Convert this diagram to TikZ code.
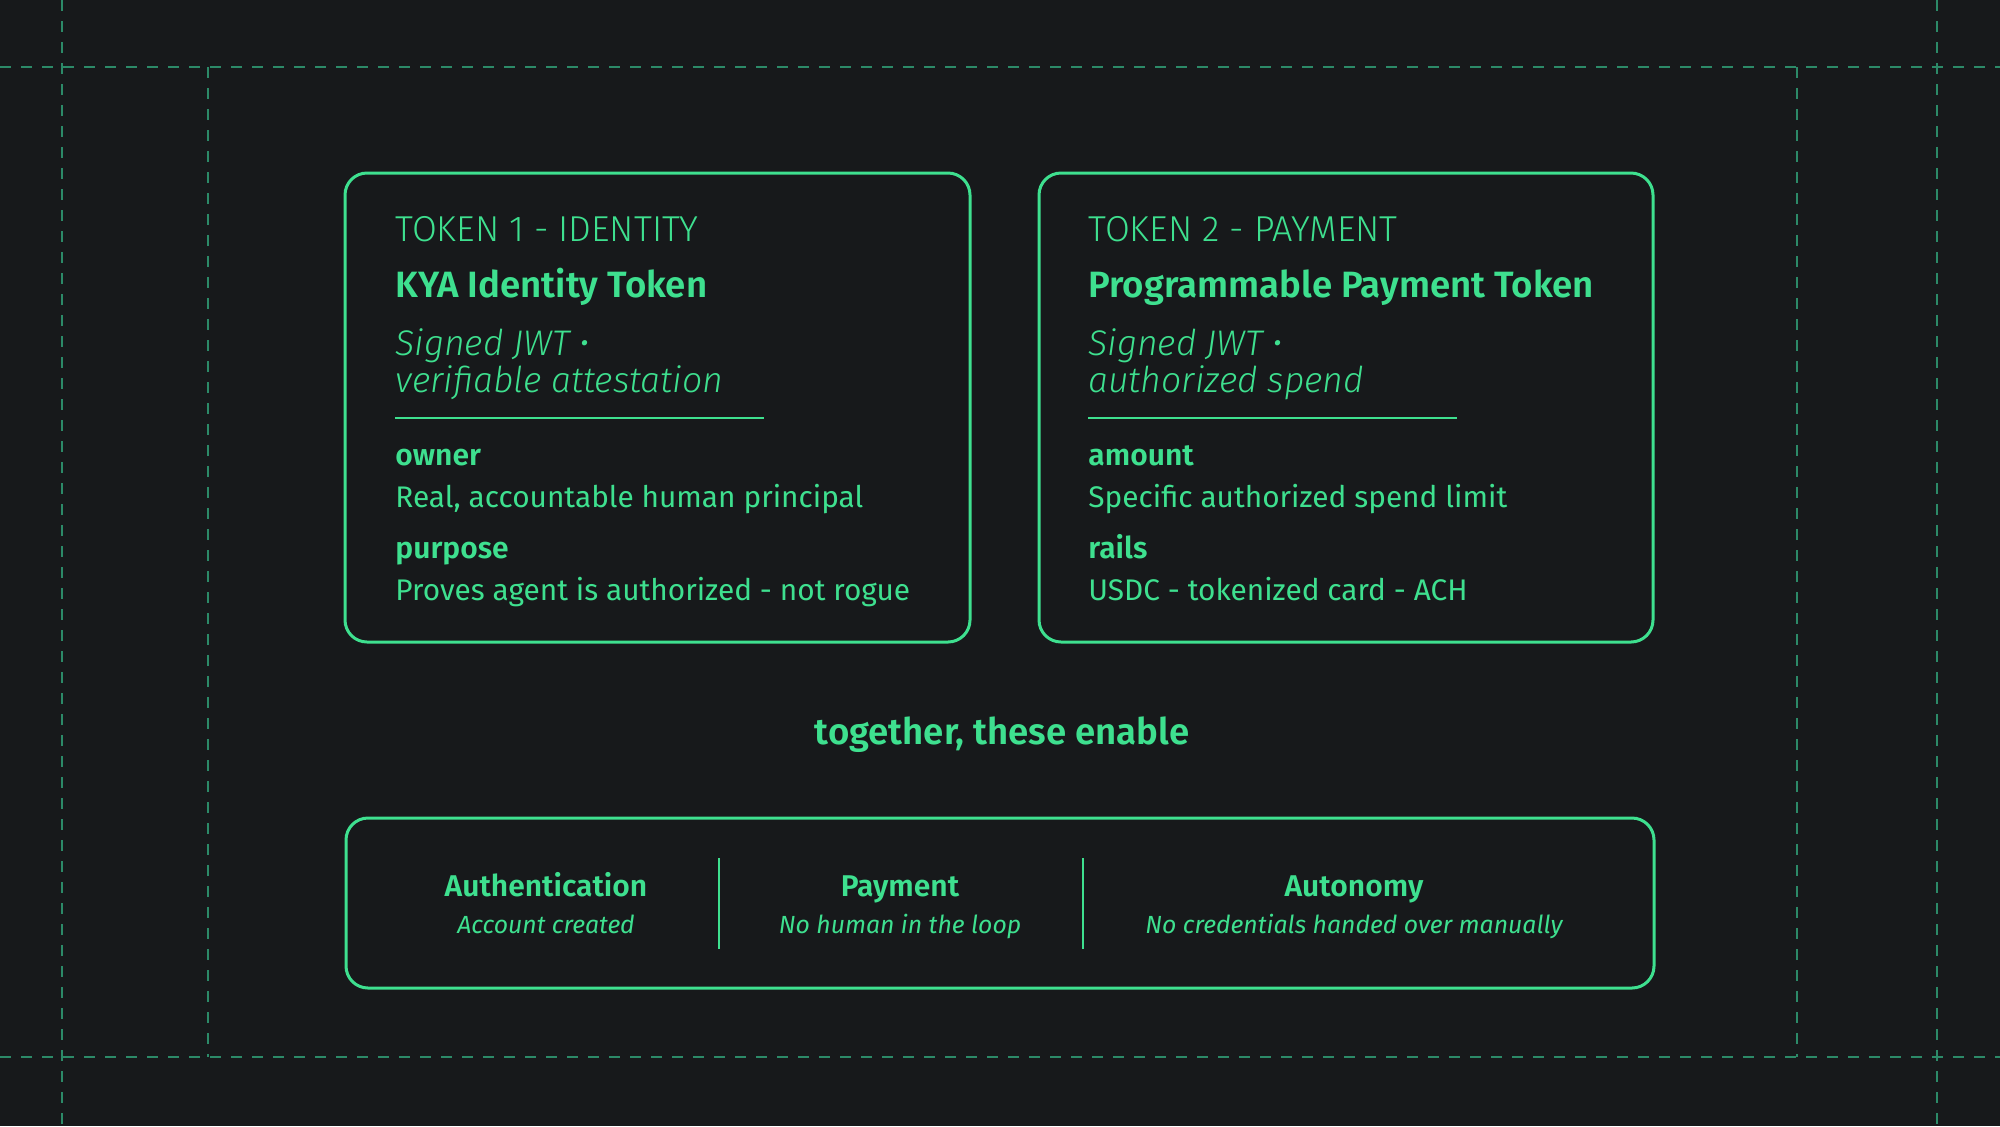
\documentclass[tikz,border=0pt]{standalone}
\usepackage{fontspec}
\setmainfont{Fira Sans}[BoldFont={* SemiBold}, BoldItalicFont={* SemiBold Italic}]
\newfontfamily\lightfont{Fira Sans}[UprightFont={* Light}, ItalicFont={* Light Italic}]

\definecolor{bgcol}{HTML}{17191B}
\definecolor{kyagreen}{HTML}{3EE08F}
\definecolor{gridgreen}{HTML}{2C8A68}

\tikzset{
  tokenbox/.style={draw=kyagreen, line width=1.5pt, rounded corners=11pt, inner sep=0pt},
  guide/.style={gridgreen, line width=1pt, dash pattern=on 5.5pt off 5pt},
  txt/.style={anchor=base west, inner sep=0pt, text=kyagreen},
  kicker/.style={txt, font=\lightfont\fontsize{18}{22}\selectfont},
  cardtitle/.style={txt, font=\bfseries\fontsize{18.3}{22}\selectfont},
  jwt/.style={txt, font=\lightfont\itshape\fontsize{17.8}{22}\selectfont},
  field/.style={txt, font=\bfseries\fontsize{15}{18}\selectfont},
  fieldval/.style={txt, font=\fontsize{14.9}{18}\selectfont},
  capname/.style={anchor=base, inner sep=0pt, text=kyagreen, font=\bfseries\fontsize{15}{18}\selectfont},
  capdesc/.style={anchor=base, inner sep=0pt, text=kyagreen, font=\itshape\fontsize{12.4}{15}\selectfont}
}

\begin{document}
\begin{tikzpicture}[x=0.5pt, y=-0.5pt]
\fill[bgcol] (0,0) rectangle (2000,1126);
\useasboundingbox (0,0) rectangle (2000,1126);

% 안내선
\draw[guide] (0,67) -- (2000,67);
\draw[guide] (0,1057) -- (2000,1057);
\draw[guide] (62,0) -- (62,1126);
\draw[guide] (1937,0) -- (1937,1126);
\draw[guide] (208,67) -- (208,1057);
\draw[guide] (1797,67) -- (1797,1057);

%% 첫 번째 토큰
\begin{scope}
\node[tokenbox, minimum width=312.5pt, minimum height=234.5pt] (tok1) at (657.5,407.5) {};
\node[kicker] (tok1kick) at (395,241) {TOKEN 1 - IDENTITY};
\node[cardtitle] (tok1title) at (395,297) {KYA Identity Token};
\node[jwt] (tok1jwt) at (395,355) {Signed JWT •};
\node[jwt] (tok1att) at (395,392) {verifiable attestation};
\draw[kyagreen, line width=0.6pt] (395,418) -- (764,418); % 구분선
\node[field] (owner) at (395,465) {owner};
\node[fieldval] (ownerval) at (395,507) {Real, accountable human principal};
\node[field] (purpose) at (395,558) {purpose};
\node[fieldval] (purposeval) at (395,600) {Proves agent is authorized - not rogue};
\end{scope}

%% 두 번째 토큰
\begin{scope}
\node[tokenbox, minimum width=307pt, minimum height=234.5pt] (tok2) at (1346,407.5) {};
\node[kicker] (tok2kick) at (1088,241) {TOKEN 2 - PAYMENT};
\node[cardtitle] (tok2title) at (1088,297) {Programmable Payment Token};
\node[jwt] (tok2jwt) at (1088,355) {Signed JWT •};
\node[jwt] (tok2spend) at (1088,392) {authorized spend};
\draw[kyagreen, line width=0.6pt] (1088,418) -- (1457,418); % 구분선
\node[field] (amount) at (1088,465) {amount};
\node[fieldval] (amountval) at (1088,507) {Specific authorized spend limit};
\node[field] (rails) at (1088,558) {rails};
\node[fieldval] (railsval) at (1088,600) {USDC - tokenized card - ACH};
\end{scope}

\node[capname, font=\bfseries\fontsize{18.3}{22}\selectfont] (together) at (1002,744) {together, these enable};

%% 결과
\node[tokenbox, minimum width=654pt, minimum height=85pt] (enable) at (1000,903) {};
\draw[kyagreen, line width=0.75pt] (719,858) -- (719,949);
\draw[kyagreen, line width=0.75pt] (1083,858) -- (1083,949);
\node[capname] (auth) at (546,896) {Authentication};
\node[capdesc] (authdesc) at (546,933) {Account created};
\node[capname] (pay) at (900,896) {Payment};
\node[capdesc] (paydesc) at (900,933) {No human in the loop};
\node[capname] (auto) at (1354,896) {Autonomy};
\node[capdesc] (autodesc) at (1354,933) {No credentials handed over manually};
\end{tikzpicture}
\end{document}
